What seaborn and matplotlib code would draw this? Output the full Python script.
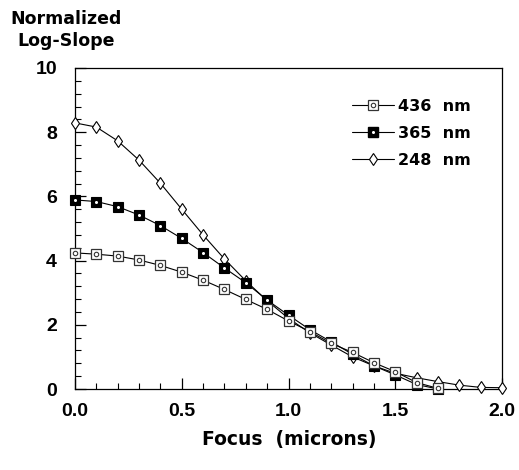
import numpy as np
import pandas as pd
import matplotlib
matplotlib.use("Agg")
import matplotlib.pyplot as plt
import seaborn as sns
from matplotlib.legend_handler import HandlerTuple
from matplotlib.lines import Line2D

focus = [0.0, 0.1, 0.2, 0.3, 0.4, 0.5, 0.6, 0.7, 0.8, 0.9, 1.0, 1.1, 1.2, 1.3, 1.4, 1.5, 1.6, 1.7, 1.8, 1.9, 2.0]
slope_436 = [4.24, 4.20, 4.14, 4.02, 3.85, 3.64, 3.39, 3.10, 2.79, 2.48, 2.12, 1.79, 1.42, 1.14, 0.82, 0.54, 0.20, 0.02]
slope_365 = [5.89, 5.84, 5.68, 5.42, 5.09, 4.69, 4.25, 3.77, 3.31, 2.77, 2.30, 1.85, 1.47, 1.08, 0.72, 0.44, 0.14, 0.0]
slope_248 = [8.29, 8.16, 7.73, 7.13, 6.41, 5.60, 4.80, 4.05, 3.37, 2.75, 2.20, 1.75, 1.37, 1.00, 0.72, 0.49, 0.35, 0.23, 0.12, 0.05, 0.04]
labels = ["436  nm", "365  nm", "248  nm"]
yticks = [0, 2, 4, 6, 8, 10]
xticks = [0.0, 0.5, 1.0, 1.5, 2.0]

sns.set_style("ticks")
plt.rcParams["font.family"] = ["DejaVu Sans"]
plt.rcParams["font.weight"] = "bold"
for k in ["text.color", "axes.labelcolor", "xtick.color", "ytick.color", "axes.edgecolor"]:
    plt.rcParams[k] = "black"

fig = plt.figure(figsize=(5.19, 4.70), dpi=100)
ax = fig.add_axes([75/519, 1-389/470, (502-75)/519, (389-68)/470])

d436 = pd.DataFrame({"x": focus[:len(slope_436)], "y": slope_436})
d365 = pd.DataFrame({"x": focus[:len(slope_365)], "y": slope_365})
d248 = pd.DataFrame({"x": focus[:len(slope_248)], "y": slope_248})

lw = 0.8
ms = 6.5
# 248 nm : open diamond
sns.lineplot(data=d248, x="x", y="y", ax=ax, color="black", lw=lw, marker="d",
             markersize=ms, markerfacecolor="white", markeredgecolor="black",
             markeredgewidth=0.8, zorder=3, clip_on=False)
# 365 nm : black square with white dot
sns.lineplot(data=d365, x="x", y="y", ax=ax, color="black", lw=lw, marker="s",
             markersize=ms, markerfacecolor="black", markeredgecolor="black",
             markeredgewidth=0.8, zorder=4, clip_on=False)
ax.plot(d365["x"], d365["y"], ls="none", marker="o", markersize=2.2,
        markerfacecolor="white", markeredgewidth=0, zorder=5, clip_on=False)
# 436 nm : open square with circle inside
sns.lineplot(data=d436, x="x", y="y", ax=ax, color="black", lw=lw, marker="s",
             markersize=ms, markerfacecolor="white", markeredgecolor="#333333",
             markeredgewidth=0.9, zorder=6, clip_on=False)
ax.plot(d436["x"], d436["y"], ls="none", marker="o", markersize=3.2,
        markerfacecolor="none", markeredgecolor="#333333", markeredgewidth=0.8,
        zorder=7, clip_on=False)

ax.set_xlim(0, 2.0)
ax.set_ylim(0, 10)
ax.set_xticks(xticks)
ax.set_xticklabels([f"{v:.1f}" for v in xticks])
ax.set_yticks(yticks)
ax.set_xticks(np.arange(0, 2.001, 0.1), minor=True)
ax.set_yticks(np.arange(0, 10.001, 0.4), minor=True)
ax.tick_params(axis="both", which="major", direction="in", length=8, width=0.9,
               labelsize=14, top=False, right=False)
ax.tick_params(axis="both", which="minor", direction="in", length=4, width=0.8,
               top=False, right=False)
ax.tick_params(axis="x", which="major", pad=10)
ax.tick_params(axis="y", which="major", pad=13)
for lab in ax.get_xticklabels() + ax.get_yticklabels():
    lab.set_fontweight("bold")
    lab.set_family(["Liberation Sans", "DejaVu Sans"])
for s in ax.spines.values():
    s.set_visible(True)
    s.set_linewidth(0.9)
    s.set_color("black")

ax.set_xlabel("")
ax.set_ylabel("")
fig.text(289/519, 1-440/470, "Focus  (microns)", ha="center", va="center",
         fontsize=13.5, fontweight="bold")
fig.text(66/519, 1-30/470, "Normalized\nLog-Slope", ha="center", va="center",
         fontsize=12.5, fontweight="bold", linespacing=1.3)

# legend
h436 = (Line2D([], [], color="black", lw=lw, marker="s", markersize=ms,
               markerfacecolor="white", markeredgecolor="#333333", markeredgewidth=0.9),
        Line2D([], [], ls="none", marker="o", markersize=3.2, markerfacecolor="none",
               markeredgecolor="#333333", markeredgewidth=0.8))
h365 = (Line2D([], [], color="black", lw=lw, marker="s", markersize=ms,
               markerfacecolor="black", markeredgecolor="black"),
        Line2D([], [], ls="none", marker="o", markersize=2.2, markerfacecolor="white",
               markeredgewidth=0))
h248 = Line2D([], [], color="black", lw=lw, marker="d", markersize=ms,
              markerfacecolor="white", markeredgecolor="black", markeredgewidth=0.8)
leg = ax.legend([h436, h365, h248], labels, handler_map={tuple: HandlerTuple(ndivide=1)},
                loc="upper left", bbox_to_anchor=(352/519, 1-99/470), bbox_transform=fig.transFigure,
                frameon=False, fontsize=11.5, handlelength=2.6, handletextpad=0.25,
                labelspacing=0.75, borderpad=0, borderaxespad=0)
for t in leg.get_texts():
    t.set_fontweight("bold")

fig.savefig("out.png", dpi=100)
